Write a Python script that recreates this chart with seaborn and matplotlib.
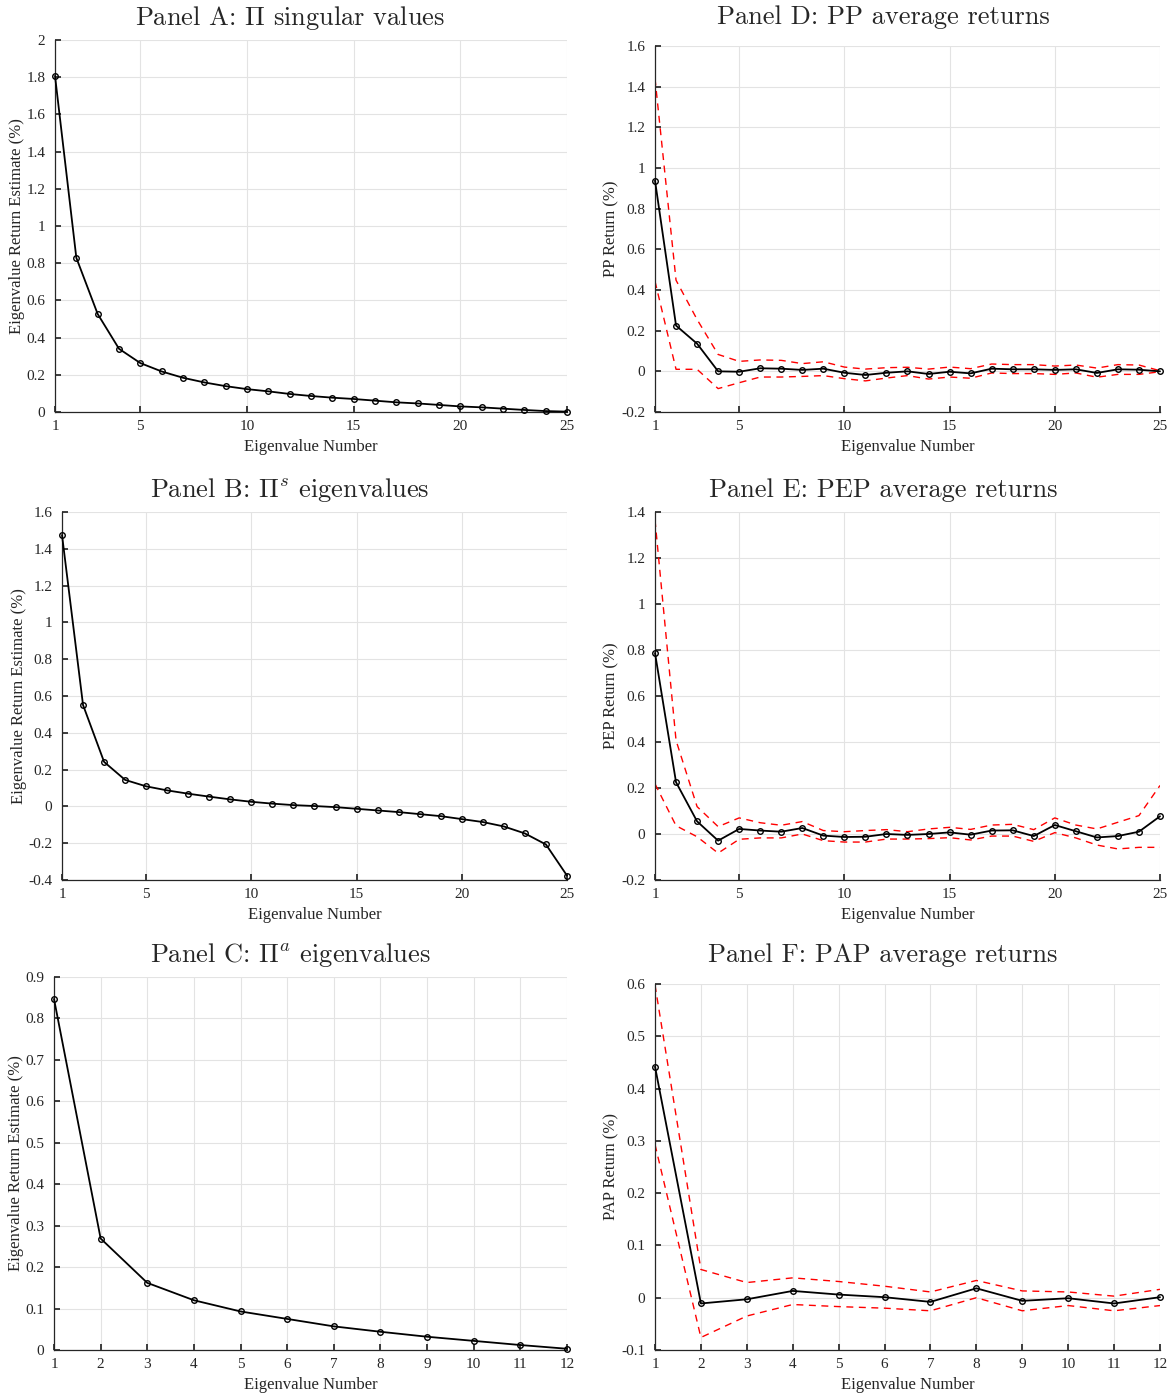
import numpy as np
import pandas as pd
import seaborn as sns
import matplotlib

matplotlib.use("Agg")
import matplotlib.pyplot as plt
from matplotlib.ticker import FuncFormatter, FixedLocator

# Panel A: Pi singular values (25)
a_vals = [1.807, 0.829, 0.527, 0.340, 0.263, 0.218, 0.184, 0.159, 0.139, 0.123,
          0.111, 0.097, 0.086, 0.077, 0.070, 0.061, 0.052, 0.046, 0.038, 0.030,
          0.025, 0.018, 0.011, 0.005, 0.002]
# Panel B: Pi^s eigenvalues (25)
b_vals = [1.475, 0.551, 0.242, 0.144, 0.109, 0.087, 0.069, 0.053, 0.038, 0.025,
          0.015, 0.007, 0.002, -0.004, -0.013, -0.022, -0.031, -0.042, -0.053, -0.069,
          -0.085, -0.109, -0.147, -0.207, -0.376]
# Panel C: Pi^a eigenvalues (12)
c_vals = [0.847, 0.269, 0.162, 0.120, 0.093, 0.075, 0.057, 0.044, 0.032, 0.022, 0.012, 0.003]

# Panel D: PP average returns with bands
d_mean = [0.938, 0.225, 0.136, 0.000, -0.002, 0.015, 0.013, 0.007, 0.013, -0.007,
          -0.018, -0.007, 0.000, -0.013, -0.002, -0.010, 0.013, 0.010, 0.010, 0.007,
          0.010, -0.008, 0.010, 0.008, 0.000]
d_upper = [1.440, 0.448, 0.255, 0.083, 0.049, 0.056, 0.054, 0.038, 0.047, 0.021,
           0.011, 0.018, 0.020, 0.011, 0.021, 0.013, 0.036, 0.033, 0.033, 0.026,
           0.031, 0.016, 0.033, 0.031, 0.003]
d_lower = [0.443, 0.010, 0.010, -0.085, -0.056, -0.028, -0.028, -0.025, -0.021, -0.036,
           -0.047, -0.033, -0.021, -0.038, -0.028, -0.034, -0.008, -0.011, -0.011, -0.015,
           -0.008, -0.029, -0.015, -0.015, -0.002]

# Panel E: PEP average returns with bands
e_mean = [0.787, 0.225, 0.055, -0.029, 0.022, 0.015, 0.010, 0.026, -0.007, -0.013,
          -0.012, 0.000, -0.004, 0.000, 0.007, -0.003, 0.015, 0.016, -0.009, 0.039,
          0.012, -0.015, -0.009, 0.010, 0.077]
e_upper = [1.365, 0.407, 0.119, 0.032, 0.070, 0.049, 0.038, 0.054, 0.015, 0.010,
           0.015, 0.019, 0.010, 0.022, 0.029, 0.020, 0.039, 0.042, 0.019, 0.070,
           0.039, 0.022, 0.051, 0.080, 0.211]
e_lower = [0.218, 0.036, -0.012, -0.083, -0.023, -0.017, -0.017, 0.000, -0.029, -0.035,
           -0.035, -0.022, -0.022, -0.020, -0.016, -0.026, -0.009, -0.009, -0.032, 0.006,
           -0.017, -0.048, -0.065, -0.058, -0.058]

# Panel F: PAP average returns with bands
f_mean = [0.442, -0.011, -0.003, 0.013, 0.006, 0.001, -0.008, 0.018, -0.006, -0.001, -0.011, 0.001]
f_upper = [0.598, 0.054, 0.029, 0.038, 0.031, 0.022, 0.011, 0.033, 0.013, 0.011, 0.003, 0.016]
f_lower = [0.293, -0.076, -0.035, -0.013, -0.017, -0.020, -0.025, 0.000, -0.025, -0.015, -0.025, -0.015]

x_ticks_25 = [1, 5, 10, 15, 20, 25]
x_ticks_12 = list(range(1, 13))

sns.set_theme(style="whitegrid")
plt.rcParams.update({
    "font.family": ["Liberation Serif", "DejaVu Serif"],
    "mathtext.fontset": "cm",
    "axes.unicode_minus": False,
    "axes.edgecolor": "#262626",
    "axes.linewidth": 0.9,
    "grid.color": "#e3e3e3",
    "grid.linewidth": 0.8,
    "xtick.color": "#262626",
    "ytick.color": "#262626",
    "xtick.direction": "in",
    "ytick.direction": "in",
    "xtick.major.size": 4,
    "ytick.major.size": 4,
    "xtick.bottom": True,
    "ytick.left": True,
})

W, H = 1169, 1395
fig = plt.figure(figsize=(W / 100, H / 100), dpi=100)


def px_axes(left, top, right, bottom):
    ax = fig.add_axes([left / W, 1 - bottom / H, (right - left) / W, (bottom - top) / H])
    ax._px = (left, right)
    return ax


fmt = FuncFormatter(lambda v, p: f"{v:g}")


def style(ax, title, title_cx, pad, ylabel, xticks, ylim, ystep):
    ax.set_xlim(xticks[0], xticks[-1])
    ax.xaxis.set_major_locator(FixedLocator(xticks))
    ax.set_ylim(*ylim)
    yt = np.round(np.arange(ylim[0], ylim[1] + ystep / 2, ystep), 3)
    ax.yaxis.set_major_locator(FixedLocator(yt))
    ax.yaxis.set_major_formatter(fmt)
    ax.xaxis.set_major_formatter(fmt)
    ax.tick_params(axis="y", labelsize=11, pad=7, colors="#262626")
    ax.tick_params(axis="x", labelsize=11, pad=6, colors="#262626")
    ax.set_xlabel("Eigenvalue Number", fontsize=12, color="#262626", labelpad=4)
    ax.set_ylabel(ylabel, fontsize=12, color="#262626", labelpad=1)
    left, right = ax._px
    ax.set_title(title, fontsize=19, pad=pad, family="cmr10",
                 x=(title_cx - left) / (right - left))
    for s in ["top", "right"]:
        ax.spines[s].set_visible(False)
    ax.grid(True)


def main_line(ax, x, y):
    sns.lineplot(x=x, y=y, ax=ax, color="black", linewidth=1.3, marker="o",
                 markersize=4, markerfacecolor="none", markeredgecolor="black",
                 markeredgewidth=1.0, clip_on=False, zorder=5)


def band(ax, x, y):
    sns.lineplot(x=x, y=y, ax=ax, color="red", linewidth=1.0, dashes=False)
    ax.lines[-1].set_linestyle((0, (5, 4)))


lbl_eig = "Eigenvalue Return Estimate (%)"
x25 = np.arange(1, 26)
x12 = np.arange(1, 13)

# Panel A
ax = px_axes(55, 40, 567, 412)
main_line(ax, x25, a_vals)
style(ax, r"Panel A: $\Pi$ singular values", 290, 11, lbl_eig, x_ticks_25, (0, 2), 0.2)

# Panel D
ax = px_axes(655, 46, 1160, 412)
band(ax, x25, d_upper)
band(ax, x25, d_lower)
main_line(ax, x25, d_mean)
style(ax, "Panel D: PP average returns", 883, 16, "PP Return (%)", x_ticks_25, (-0.2, 1.6), 0.2)

# Panel B
ax = px_axes(62, 512, 567, 880)
main_line(ax, x25, b_vals)
style(ax, r"Panel B: $\Pi^{s}$ eigenvalues", 290, 11, lbl_eig, x_ticks_25, (-0.4, 1.6), 0.2)

# Panel E
ax = px_axes(655, 512, 1160, 880)
band(ax, x25, e_upper)
band(ax, x25, e_lower)
main_line(ax, x25, e_mean)
style(ax, "Panel E: PEP average returns", 883, 11, "PEP Return (%)", x_ticks_25, (-0.2, 1.4), 0.2)

# Panel C
ax = px_axes(54, 977, 567, 1350)
main_line(ax, x12, c_vals)
style(ax, r"Panel C: $\Pi^{a}$ eigenvalues", 290, 11, lbl_eig, x_ticks_12, (0, 0.9), 0.1)

# Panel F
ax = px_axes(655, 984, 1160, 1350)
band(ax, x12, f_upper)
band(ax, x12, f_lower)
main_line(ax, x12, f_mean)
style(ax, "Panel F: PAP average returns", 883, 16, "PAP Return (%)", x_ticks_12, (-0.1, 0.6), 0.1)

fig.savefig("out.png", dpi=100, facecolor="white")
